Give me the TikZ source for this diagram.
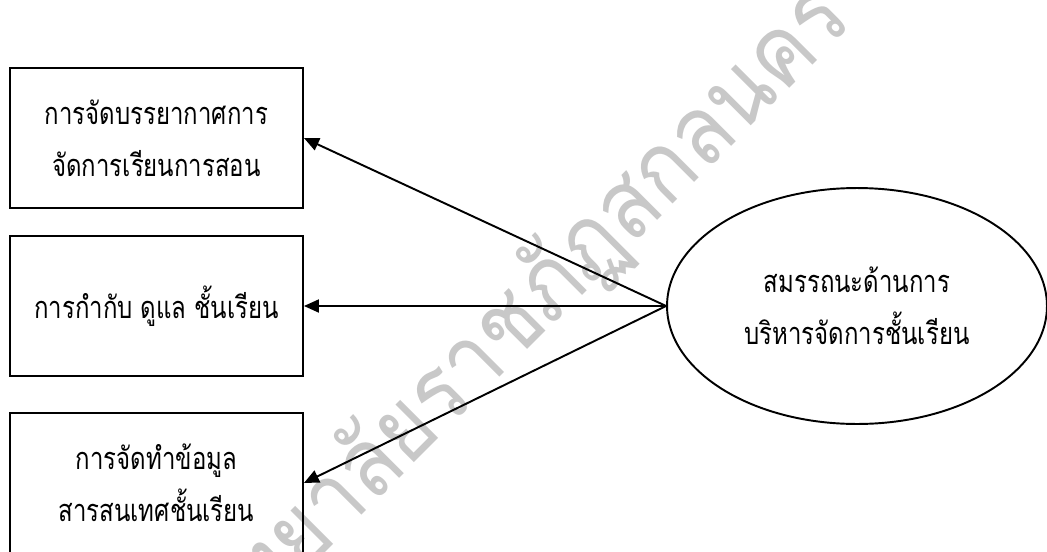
\documentclass[tikz,border=0pt]{standalone}
\usepackage{fontspec}
\usetikzlibrary{shapes.geometric,arrows.meta}
\newfontfamily\thaifont[Script=Thai,FakeStretch=0.78]{Loma}
\newfontfamily\wmfont[Script=Thai,FakeStretch=0.88]{Loma}
\definecolor{wmgray}{RGB}{200,200,200}
\tikzset{
  box/.style={draw,line width=1.1pt,minimum width=5.86cm,minimum height=2.8cm,align=center,font=\thaifont\fontsize{17.5}{29.6}\selectfont},
  oval/.style={draw,ellipse,line width=1.1pt,minimum width=7.6cm,minimum height=4.72cm,align=center,font=\thaifont\fontsize{17.5}{29.6}\selectfont},
  arr/.style={line width=1.1pt,-{Triangle[length=3mm,width=2.6mm]}}
}
\begin{document}
\begin{tikzpicture}[x=0.02cm,y=-0.02cm]
\useasboundingbox (0,0) rectangle (1047,551);
\clip (0,0) rectangle (1047,551);
\fill[white] (0,0) rectangle (1047,551);

\node[rotate=45,text=wmgray,font=\wmfont\fontsize{55}{66}\selectfont] (wm) at (465,371) {มหาวิทยาลัยราชภัฏสกลนคร};

\node[box] (b1) at (156.5,138) {การจัดบรรยากาศการ\\จัดการเรียนการสอน};
\node[box] (b2) at (156.5,306) {การกำกับ ดูแล ชั้นเรียน};
\node[box] (b3) at (156.5,483) {การจัดทำข้อมูล\\สารสนเทศชั้นเรียน};
\node[oval] (e) at (857,306) {สมรรถนะด้านการ\\บริหารจัดการชั้นเรียน};

\draw[arr] (e.west) -- (b1.east);
\draw[arr] (e.west) -- (b2.east);
\draw[arr] (e.west) -- (b3.east);
\end{tikzpicture}
\end{document}
